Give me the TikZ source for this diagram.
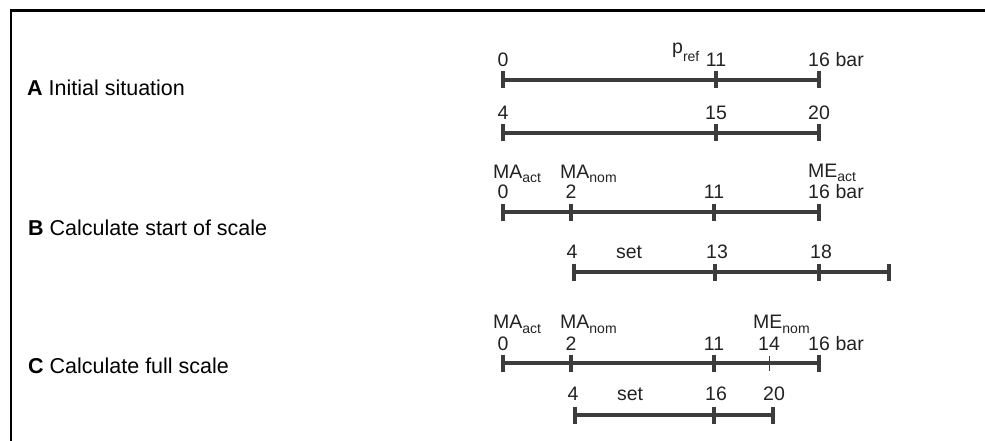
\documentclass[tikz,border=0pt]{standalone}
\usepackage{fontspec}
\setmainfont{Liberation Sans}
\definecolor{barc}{HTML}{3C3C3C}
\definecolor{txt}{HTML}{222222}
\newcommand\subtxt[2][-5pt]{\raisebox{#1}{\fontsize{14}{14}\selectfont #2}}
\begin{document}
\begin{tikzpicture}[x=1pt,y=-1pt,
  frameline/.style={line width=2.5pt, draw=black},
  scaleline/.style={line width=4pt, draw=barc},
  tickmark/.style={line width=4pt, draw=barc},
  thintick/.style={line width=0.9pt, draw=barc},
  num/.style={inner sep=0pt, anchor=base, font=\fontsize{19.5}{20}\selectfont, text=txt},
  lbl/.style={inner sep=0pt, anchor=base west, font=\fontsize{19.5}{20}\selectfont, text=txt},
  head/.style={inner sep=0pt, anchor=base west, font=\fontsize{21.5}{22}\selectfont, text=black},
]
\useasboundingbox (0,0) rectangle (985,441);
\draw[frameline] (985,10.5) -- (11.2,10.5) -- (11.2,441);

% headings
\node[head] (hA) at (27,96) {\textbf{A} Initial situation};
\node[head] (hB) at (28,235) {\textbf{B} Calculate start of scale};
\node[head] (hC) at (28,373) {\textbf{C} Calculate full scale};

% ---- Row A top
\coordinate (a1s) at (503,80); \coordinate (a1m) at (716,80); \coordinate (a1e) at (819,80);
\draw[scaleline] (a1s) -- (a1e);
\foreach \p in {a1s,a1m,a1e} \draw[tickmark] ([yshift=8.5pt]\p) -- ([yshift=-8.5pt]\p);
\node[num] (a1n0) at (503,67) {0};
\node[lbl] (pref) at (672,54) {p\subtxt[-8pt]{ref}};
\node[num] (a1n11) at (716,67) {11};
\node[num] (a1n16) at (819,67) {16};
\node[lbl] (a1bar) at ([xshift=5.4pt]a1n16.base east) {bar};

% ---- Row A bottom
\coordinate (a2s) at (503,133); \coordinate (a2m) at (716,133); \coordinate (a2e) at (819,133);
\draw[scaleline] (a2s) -- (a2e);
\foreach \p in {a2s,a2m,a2e} \draw[tickmark] ([yshift=8.5pt]\p) -- ([yshift=-8.5pt]\p);
\node[num] (a2n4) at (503,120) {4};
\node[num] (a2n15) at (716,120) {15};
\node[num] (a2n20) at (819,120) {20};

% ---- Row B top
\coordinate (b1s) at (503,212); \coordinate (b1a) at (571,212); \coordinate (b1m) at (714,212); \coordinate (b1e) at (819,212);
\draw[scaleline] (b1s) -- (b1e);
\foreach \p in {b1s,b1a,b1m,b1e} \draw[tickmark] ([yshift=8.5pt]\p) -- ([yshift=-8.5pt]\p);
\node[lbl] (b1maact) at (493,178) {MA\subtxt{act}};
\node[lbl] (b1manom) at (560,178) {MA\subtxt{nom}};
\node[lbl] (b1meact) at (808,177) {ME\subtxt[-4.5pt]{act}};
\node[num] (b1n0) at (503,198) {0};
\node[num] (b1n2) at (571,198) {2};
\node[num] (b1n11) at (714,198) {11};
\node[num] (b1n16) at (819,198) {16};
\node[lbl] (b1bar) at ([xshift=5.4pt]b1n16.base east) {bar};

% ---- Row B bottom
\coordinate (b2s) at (574,272); \coordinate (b2m) at (715,272); \coordinate (b2n) at (819,272); \coordinate (b2e) at (889,272);
\draw[scaleline] (b2s) -- (b2e);
\foreach \p in {b2s,b2m,b2n,b2e} \draw[tickmark] ([yshift=8.5pt]\p) -- ([yshift=-8.5pt]\p);
\node[num] (b2n4) at (572,258) {4};
\node[num] (b2set) at (629,258) {set};
\node[num] (b2n13) at (717,258) {13};
\node[num] (b2n18) at (821,258) {18};

% ---- Row C top
\coordinate (c1s) at (503,363); \coordinate (c1a) at (571,363); \coordinate (c1m) at (714,363); \coordinate (c1t) at (769,363); \coordinate (c1e) at (819,363);
\draw[scaleline] (c1s) -- (c1e);
\foreach \p in {c1s,c1a,c1m,c1e} \draw[tickmark] ([yshift=8.5pt]\p) -- ([yshift=-8.5pt]\p);
\draw[thintick] ([yshift=7.5pt]c1t) -- ([yshift=-7.5pt]c1t);
\node[lbl] (c1maact) at (493,328) {MA\subtxt{act}};
\node[lbl] (c1manom) at (560,328) {MA\subtxt{nom}};
\node[lbl] (c1menom) at (753,328) {ME\subtxt{nom}};
\node[num] (c1n0) at (503,350) {0};
\node[num] (c1n2) at (571,350) {2};
\node[num] (c1n11) at (714,350) {11};
\node[num] (c1n14) at (769,350) {14};
\node[num] (c1n16) at (819,350) {16};
\node[lbl] (c1bar) at ([xshift=5.4pt]c1n16.base east) {bar};

% ---- Row C bottom
\coordinate (c2s) at (575,415); \coordinate (c2m) at (714,415); \coordinate (c2e) at (773,415);
\draw[scaleline] (c2s) -- (c2e);
\foreach \p in {c2s,c2m,c2e} \draw[tickmark] ([yshift=8.5pt]\p) -- ([yshift=-8.5pt]\p);
\node[num] (c2n4) at (573,400) {4};
\node[num] (c2set) at (630,400) {set};
\node[num] (c2n16) at (716,400) {16};
\node[num] (c2n20) at (774,400) {20};
\end{tikzpicture}
\end{document}
